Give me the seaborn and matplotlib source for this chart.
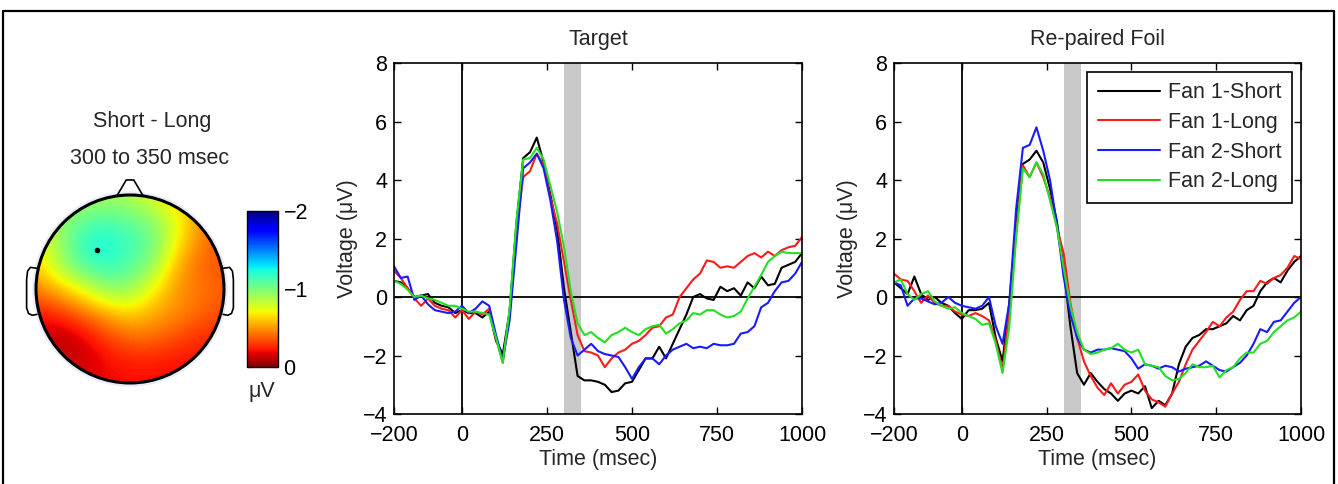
import matplotlib
matplotlib.use("Agg")
import numpy as np
import pandas as pd
import seaborn as sns
import matplotlib.pyplot as plt
from matplotlib.patches import Circle
from matplotlib.lines import Line2D

sns.set_theme(style="white")
plt.rcParams['font.family'] = ['Liberation Sans', 'DejaVu Sans']
plt.rcParams['axes.unicode_minus'] = True

# ---- ERP data (20 ms steps) ----
time_ms = [-200, -180, -160, -140, -120, -100, -80, -60, -40, -20,
           0, 20, 40, 60, 80, 100, 120, 140, 160, 180,
           200, 220, 240, 260, 280, 300, 320, 340, 360, 380,
           400, 420, 440, 460, 480, 500, 520, 540, 560, 580,
           600, 620, 640, 660, 680, 700, 720, 740, 760, 780,
           800, 820, 840, 860, 880, 900, 920, 940, 960, 980, 1000]

conditions = ["Fan 1-Short", "Fan 1-Long", "Fan 2-Short", "Fan 2-Long"]
line_colors = ["#000000", "#ff1a1a", "#1a1aff", "#22e022"]

target_f1_short = [0.55, 0.5, 0.3, 0.0, 0.05, 0.1, -0.2, -0.3, -0.35, -0.55,
                   -0.45, -0.55, -0.55, -0.7, -0.5, -1.5, -1.95, -0.5, 2.5, 4.75,
                   4.95, 5.45, 4.6, 3.5, 2.3, 0.3, -1.2, -2.7, -2.85, -2.85,
                   -2.9, -3.0, -3.25, -3.2, -2.95, -2.9, -2.5, -2.1, -2.1, -1.7,
                   -2.1, -1.6, -1.1, -0.6, 0.0, 0.1, -0.05, -0.1, 0.35, 0.2,
                   0.3, 0.05, 0.5, 0.3, 0.7, 0.4, 0.45, 1.0, 1.1, 1.2, 1.5]
target_f1_long = [0.9, 0.65, 0.3, -0.05, -0.3, -0.05, -0.3, -0.4, -0.45, -0.7,
                  -0.45, -0.75, -0.5, -0.6, -0.4, -1.4, -2.25, -0.5, 2.3, 4.1,
                  4.3, 4.9, 4.5, 3.4, 2.5, 1.2, -0.1, -1.3, -1.85, -1.9,
                  -2.0, -2.4, -2.1, -1.9, -1.8, -1.6, -1.5, -1.3, -1.05, -1.0,
                  -0.7, -0.6, 0.0, 0.3, 0.6, 0.8, 1.25, 1.2, 1.0, 1.05,
                  1.0, 1.2, 1.4, 1.5, 1.35, 1.55, 1.4, 1.6, 1.7, 1.75, 2.05]
target_f2_short = [1.05, 0.65, 0.7, -0.1, 0.05, -0.25, -0.45, -0.5, -0.55, -0.5,
                   -0.3, -0.55, -0.4, -0.15, -0.3, -1.3, -2.15, -0.8, 1.8, 4.4,
                   4.6, 4.9, 4.4, 3.3, 1.9, -0.1, -1.4, -2.0, -1.8, -1.6,
                   -1.85, -1.95, -2.0, -2.05, -2.4, -2.8, -2.4, -2.1, -2.1, -2.3,
                   -2.0, -1.8, -1.7, -1.6, -1.75, -1.7, -1.75, -1.6, -1.65, -1.65,
                   -1.6, -1.25, -1.2, -1.0, -0.35, -0.2, 0.2, 0.5, 0.55, 0.8, 1.2]
target_f2_long = [0.55, 0.45, 0.25, 0.0, 0.05, -0.05, -0.1, -0.2, -0.3, -0.3,
                  -0.4, -0.5, -0.5, -0.55, -0.6, -1.4, -2.25, -0.4, 2.6, 4.7,
                  4.75, 5.1, 4.7, 3.8, 2.9, 1.7, 0.2, -0.9, -1.3, -1.2,
                  -1.4, -1.55, -1.3, -1.2, -1.05, -1.2, -1.3, -1.1, -1.0, -0.95,
                  -1.25, -1.1, -0.9, -0.8, -0.55, -0.6, -0.45, -0.45, -0.6, -0.7,
                  -0.65, -0.5, -0.05, 0.35, 0.75, 1.2, 1.4, 1.55, 1.5, 1.5, 1.5]

foil_f1_short = [0.5, 0.3, 0.1, 0.7, 0.1, -0.1, 0.0, -0.2, -0.3, -0.55,
                 -0.75, -0.45, -0.45, -0.4, -0.2, -1.4, -2.2, -0.2, 2.5, 4.55,
                 4.7, 5.0, 4.6, 3.7, 2.6, 1.0, -1.0, -2.6, -3.0, -2.6,
                 -2.9, -3.15, -3.3, -3.55, -3.3, -3.2, -3.3, -3.05, -3.8, -3.55,
                 -3.7, -3.3, -2.3, -1.7, -1.4, -1.3, -1.1, -1.1, -1.0, -0.9,
                 -0.65, -0.8, -0.45, -0.3, 0.2, 0.5, 0.65, 0.5, 0.9, 1.2, 1.4]
foil_f1_long = [0.8, 0.6, 0.55, 0.2, -0.2, 0.05, -0.2, -0.3, -0.3, -0.5,
                -0.6, -0.65, -0.55, -0.65, -0.8, -1.5, -2.5, -0.5, 2.2, 4.5,
                4.1, 4.6, 4.1, 3.4, 2.4, 1.5, -0.2, -1.4, -2.2, -2.7,
                -3.1, -3.35, -2.95, -3.3, -3.0, -2.9, -2.65, -3.2, -3.5, -3.6,
                -3.75, -3.3, -2.9, -2.3, -1.8, -1.5, -1.2, -0.85, -1.0, -0.7,
                -0.5, -0.1, 0.2, 0.2, 0.55, 0.45, 0.65, 0.75, 1.0, 1.4, 1.3]
foil_f2_short = [0.5, 0.4, -0.3, -0.05, -0.05, -0.15, -0.25, -0.2, 0.0, -0.2,
                 -0.3, -0.35, -0.4, -0.3, 0.0, -1.0, -1.6, -0.2, 3.0, 5.1,
                 5.2, 5.8, 5.0, 4.0, 2.5, 0.7, -0.6, -1.4, -1.8, -1.9,
                 -1.8, -1.8, -1.75, -1.8, -1.85, -2.1, -2.45, -2.3, -2.35, -2.45,
                 -2.35, -2.4, -2.55, -2.45, -2.4, -2.35, -2.2, -2.35, -2.5, -2.55,
                 -2.4, -2.25, -2.0, -1.6, -1.1, -1.2, -0.85, -0.8, -0.5, -0.2, 0.0]
foil_f2_long = [0.5, 0.6, 0.1, -0.1, 0.1, 0.2, -0.15, -0.3, -0.4, -0.35,
                -0.55, -0.65, -0.75, -0.95, -0.9, -1.6, -2.6, -1.0, 2.0, 4.4,
                4.1, 4.6, 4.2, 3.3, 2.4, 1.0, -0.3, -1.2, -1.8, -1.95,
                -1.9, -1.8, -1.75, -1.6, -1.8, -1.9, -1.8, -2.3, -2.35, -2.4,
                -2.7, -2.85, -2.8, -2.6, -2.3, -2.4, -2.4, -2.35, -2.75, -2.5,
                -2.4, -2.1, -1.9, -1.9, -1.6, -1.5, -1.2, -1.0, -0.8, -0.7, -0.5]

x_ticks = [-200, 0, 250, 500, 750, 1000]
y_ticks = [-4, -2, 0, 2, 4, 6, 8]
window_ms = (300, 350)

# ---- scalp map (Short - Long, 300-350 ms): 9x9 grid at -1, -0.75 ... 1, top row first ----
topo_values = [
    [-0.75, -0.8, -0.85, -0.9, -0.85, -0.75, -0.6, -0.5, -0.4],
    [-0.85, -0.95, -1.05, -1.1, -1.05, -0.95, -0.75, -0.5, -0.4],
    [-0.7, -0.9, -1.2, -1.25, -1.15, -1.05, -0.7, -0.45, -0.35],
    [-0.6, -0.9, -1.1, -1.2, -1.1, -0.95, -0.55, -0.4, -0.35],
    [-0.45, -0.58, -0.75, -0.95, -0.95, -0.7, -0.5, -0.43, -0.38],
    [-0.22, -0.3, -0.42, -0.55, -0.65, -0.55, -0.48, -0.4, -0.35],
    [-0.15, -0.08, -0.18, -0.32, -0.42, -0.42, -0.35, -0.28, -0.25],
    [-0.15, -0.15, -0.12, -0.2, -0.25, -0.25, -0.22, -0.22, -0.22],
    [-0.2, -0.2, -0.18, -0.2, -0.2, -0.2, -0.2, -0.2, -0.2],
]
electrode_xy = (-0.351, 0.415)
cbar_ticks = [-2, -1, 0]

FS = 15.5
W, H = 1338, 484
fig = plt.figure(figsize=(W / 100, H / 100), dpi=100)


def px_axes(left, top, right, bottom):
    return fig.add_axes([left / W, 1 - bottom / H, (right - left) / W, (bottom - top) / H])


def long_form(series):
    frames = [pd.DataFrame({"time": time_ms, "voltage": vals, "condition": cond})
              for cond, vals in zip(conditions, series)]
    return pd.concat(frames, ignore_index=True)


def erp_panel(ax, data, title, show_legend):
    ax.axvspan(*window_ms, color="#c8c8c8", lw=0, zorder=0)
    ax.axhline(0, color="black", lw=1.3, zorder=1)
    ax.axvline(0, color="black", lw=1.3, zorder=1)
    sns.lineplot(data=data, x="time", y="voltage", hue="condition",
                 hue_order=conditions, palette=dict(zip(conditions, line_colors)),
                 estimator=None, lw=1.5, ax=ax, legend=show_legend, zorder=2)
    ax.set_xlim(-200, 1000)
    ax.set_ylim(-4, 8)
    ax.set_xticks(x_ticks)
    ax.set_yticks(y_ticks)
    ax.tick_params(direction="in", bottom=True, left=True, top=True, right=True,
                   length=5, width=1, labelsize=FS, colors="black")
    ax.tick_params(axis="x", pad=8)
    ax.tick_params(axis="y", pad=5)
    ax.set_xlabel("Time (msec)", fontsize=FS, labelpad=2)
    ax.set_ylabel("Voltage (μV)", fontsize=FS, labelpad=3)
    ax.set_title(title, fontsize=FS, pad=13)
    for sp in ax.spines.values():
        sp.set_linewidth(1.2)
        sp.set_color("black")
    if show_legend:
        handles, labels = ax.get_legend_handles_labels()
        leg = ax.legend(handles, labels, loc="upper right", fontsize=FS,
                        frameon=True, fancybox=False, framealpha=1,
                        edgecolor="black", borderaxespad=0.4, handlelength=2.85,
                        handletextpad=0.4, labelspacing=0.4, borderpad=0.5)
        leg.get_frame().set_linewidth(1.2)


ax_t = px_axes(394, 63, 802, 414)
erp_panel(ax_t, long_form([target_f1_short, target_f1_long, target_f2_short, target_f2_long]),
          "Target", False)
ax_f = px_axes(894, 63, 1301, 414)
erp_panel(ax_f, long_form([foil_f1_short, foil_f1_long, foil_f2_short, foil_f2_long]),
          "Re-paired Foil", "auto")

# ---- scalp map ----
ax_h = px_axes(20, 170, 240, 400)
ax_h.set_xlim(-1.170, 1.170)
ax_h.set_ylim(-1.181, 1.266)
ax_h.axis("off")
ax_h.add_patch(Circle((0, 0), 1.025, fill=False, ec="#e8eef8", lw=2, zorder=0))
im = ax_h.imshow(topo_values, extent=(-1.125, 1.125, -1.125, 1.125), cmap="jet",
                 vmin=-2, vmax=0, interpolation="bicubic", origin="upper", zorder=1)
im.set_clip_path(Circle((0, 0), 1.0, transform=ax_h.transData))
ax_h.add_patch(Circle((0, 0), 1.0, fill=False, ec="black", lw=2.2, zorder=3))
ax_h.plot([-0.14, -0.04, 0.04, 0.14], [0.99, 1.16, 1.16, 0.99], color="black", lw=1.2, zorder=3)
ear_u = [0.99, 1.06, 1.09, 1.10, 1.10, 1.08, 1.04, 0.99]
ear_w = [0.22, 0.23, 0.19, 0.10, -0.20, -0.26, -0.28, -0.27]
ax_h.plot([-u for u in ear_u], ear_w, color="black", lw=1.2, zorder=3)
ax_h.plot(ear_u, ear_w, color="black", lw=1.2, zorder=3)
ax_h.plot(*electrode_xy, "o", color="black", ms=3, zorder=4)

cax = px_axes(247, 211, 278, 367)
cb = fig.colorbar(im, cax=cax, ticks=cbar_ticks)
cax.invert_yaxis()
cb.outline.set_linewidth(1.0)
cb.outline.set_edgecolor("black")
cax.tick_params(direction="in", left=True, right=True, length=4, width=0.8,
                labelsize=FS, pad=4, colors="black")

fig.text(152 / W, 1 - 121 / H, "Short - Long", fontsize=FS, ha="center", va="center")
fig.text(150 / W, 1 - 158 / H, "300 to 350 msec", fontsize=FS, ha="center", va="center")
fig.text(262 / W, 1 - 392 / H, "μV", fontsize=FS, ha="center", va="center")

# outer frame (open at the bottom)
fig.add_artist(Line2D([3 / W, 3 / W, 1334 / W, 1334 / W], [0, 1 - 11 / H, 1 - 11 / H, 0],
                      color="black", lw=1.6))

fig.savefig("out.png", dpi=100)
